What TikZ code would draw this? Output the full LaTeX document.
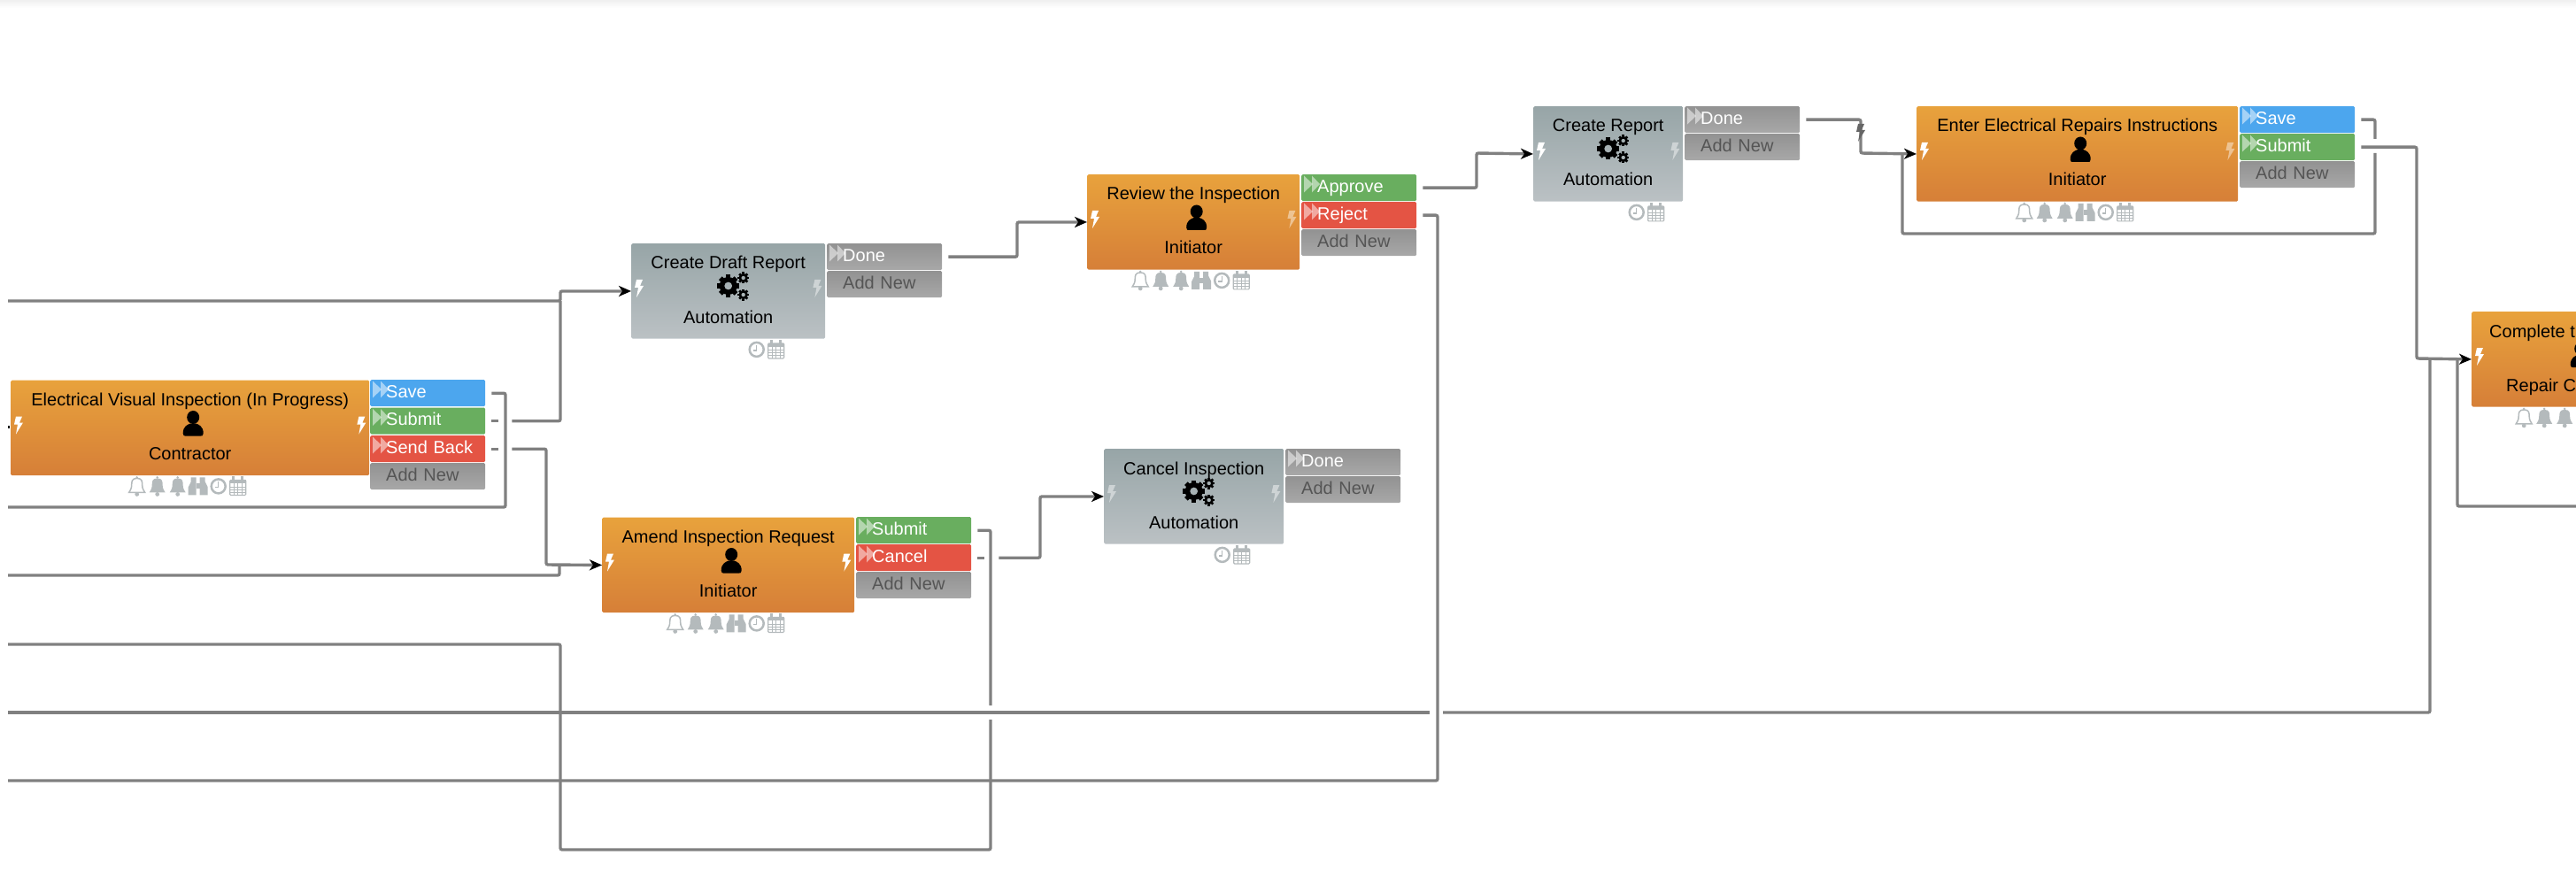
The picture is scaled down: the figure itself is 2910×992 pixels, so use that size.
\documentclass[tikz,border=0pt]{standalone}
\usepackage{fontspec}
\setmainfont{Liberation Sans}
\usetikzlibrary{arrows.meta, calc}
\definecolor{orangetop}   {RGB}{232, 162,  60}
\definecolor{orangebot}   {RGB}{214, 127,  56}
\definecolor{greytop}     {RGB}{151, 165, 167}
\definecolor{greybot}     {RGB}{187, 193, 196}
\definecolor{btngreytop}  {RGB}{146, 146, 146}
\definecolor{btngreybot}  {RGB}{168, 168, 168}
\definecolor{btnblue}     {RGB}{ 76, 166, 238}
\definecolor{btngreen}    {RGB}{105, 174,  95}
\definecolor{btnred}      {RGB}{228,  84,  68}
\definecolor{wiregrey}    {RGB}{128, 128, 128}
\definecolor{icongrey}    {RGB}{180, 186, 188}
\definecolor{addtext}     {RGB}{ 85,  85,  85}
\tikzset{
	wire/.style={draw=wiregrey,line width=3.4pt,rounded corners=2pt},
	flow/.style={wire,-{Stealth[length=14pt,width=12pt,inset=4pt,color=black]}},
	humantask/.style={anchor=north west,minimum height=107.5pt,inner sep=0,rounded corners=1.5pt,top color=orangetop,bottom color=orangebot},
	autotask/.style={anchor=north west,minimum height=107.5pt,inner sep=0,rounded corners=1.5pt,top color=greytop,bottom color=greybot},
	tasktext/.style={font=\fontsize{20}{24}\selectfont,text=black,inner sep=0,text height=14pt,text depth=4pt},
	actionbtn/.style={anchor=north west,minimum width=130pt,minimum height=30pt,text width=130pt,align=left,inner xsep=0,inner ysep=0,
		rounded corners=1.5pt,font=\fontsize{20}{24}\selectfont,text=white,text height=14.5pt,text depth=4.5pt,
		execute at begin node=\hspace*{18pt}},
	saveact/.style={actionbtn,fill=btnblue},
	goact/.style={actionbtn,fill=btngreen},
	stopact/.style={actionbtn,fill=btnred},
	doneact/.style={actionbtn,top color=btngreytop,bottom color=btngreybot},
	addact/.style={doneact,text=addtext},
	boltlit/.style={fill=white},
	boltdim/.style={fill=white,fill opacity=.45},
	pics/bolt/.style={code={\path[pic actions] (-3,-10) -- (4,-10) -- (1,-3) -- (5,-3) -- (-3,10) -- (-1,-1) -- (-5,-1) -- cycle;}},
	pics/arrowpair/.style={code={
		\fill[white,fill opacity=.5] (0,-9.5) -- (10,0) -- (0,9.5) -- cycle;
		\fill[white,fill opacity=.5] (9,-9.5) -- (18,0) -- (9,9.5) -- cycle;
	}},
	pics/person/.style={code={
		\fill (0,-7) ellipse [x radius=7pt,y radius=7.5pt];
		\fill (-11.5,11) .. controls (-11.5,3) and (-6,1) .. (-3,0) -- (3,0) .. controls (6,1) and (11.5,3) .. (11.5,11)
			.. controls (11.5,14) and (10,14) .. (9,14) -- (-9,14) .. controls (-10,14) and (-11.5,14) .. (-11.5,11) -- cycle;
	}},
	pics/cog/.style={code={
		\fill[even odd rule] (0,0) circle [radius=0.8*#1pt] (0,0) circle [radius=0.36*#1pt];
		\foreach \a in {0,45,...,315} \fill[rotate=\a] ({0.7*#1},{-0.21*#1}) rectangle (#1,{0.21*#1});
	}},
	pics/bell/.style={code={
		\path[pic actions] (0,-9) .. controls (-6,-9) and (-6,-5) .. (-6,-1) .. controls (-6,3) and (-8,5) .. (-9,7) -- (9,7)
			.. controls (8,5) and (6,3) .. (6,-1) .. controls (6,-5) and (6,-9) .. (0,-9) -- cycle;
		\fill[icongrey] (0,9) circle (2.4pt);
		\fill[icongrey] (0,-10) circle (1.4pt);
	}},
	pics/binoc/.style={code={
		\fill[icongrey] (-11,10) -- (-11,1) -- (-8,-5) -- (-8,-10) -- (-2,-10) -- (-2,10) -- cycle;
		\fill[icongrey] (11,10) -- (11,1) -- (8,-5) -- (8,-10) -- (2,-10) -- (2,10) -- cycle;
		\fill[icongrey] (-2,-3) rectangle (2,3);
	}},
	pics/clockface/.style={code={
		\draw[icongrey,line width=2.5pt] (0,0) circle (8pt);
		\draw[icongrey,line width=1.4pt] (0,-5) -- (0,1) -- (-4,1);
	}},
	pics/calendar/.style={code={
		\draw[icongrey,line width=1.2pt,rounded corners=1pt] (-9,-7) rectangle (9,10);
		\fill[icongrey] (-9,-7) rectangle (9,-3);
		\fill[icongrey] (-6.5,-11) rectangle (-3.5,-5);
		\fill[icongrey] (3.5,-11) rectangle (6.5,-5);
		\foreach \v in {-4.5,0,4.5} \draw[icongrey,line width=.7pt] (\v,-3) -- (\v,10);
		\foreach \v in {0.5,3.5,6.5} \draw[icongrey,line width=.7pt] (-9,\v) -- (9,\v);
	}},
}
\newcommand{\taskbox}[6]{
	\node[#4,minimum width=#3pt] (#1) at (#2) {};
	\node[tasktext] (#1title) at ($(#1.north)+(0,24)$) {#5};
	\node[tasktext] (#1role) at ($(#1.north)+(0,85)$) {#6};
}
\newcommand{\actbtn}[4]{
	\node[#3] (#1) at (#2) {#4};
	\pic at ($(#1.north west)+(3,11)$) {arrowpair};
}
\newcommand{\boltpair}[3]{
	\pic[#2] at ($(#1.north west)+(9,51)$) {bolt};
	\pic[#3] at ($(#1.north east)+(-9,51)$) {bolt};
}
\newcommand{\gearicon}[1]{
	\pic at ($(#1.north)+(0,48)$) {cog=12.5};
	\pic at ($(#1.north)+(17,39)$) {cog=6.5};
	\pic at ($(#1.north)+(17,58)$) {cog=6.5};
}
\newcommand{\timeicons}[1]{
	\pic at ($(#1.south)+(32,12)$) {clockface};
	\pic at ($(#1.south)+(54,12)$) {calendar};
}
\newcommand{\alerticons}[1]{
	\pic[draw=icongrey,line width=1.5pt] at ($(#1.south)+(-60,12)$) {bell};
	\pic[fill=icongrey] at ($(#1.south)+(-37,12)$) {bell};
	\pic[fill=icongrey] at ($(#1.south)+(-14,12)$) {bell};
	\pic at ($(#1.south)+(9,12)$) {binoc};
}
\begin{document}
\begin{tikzpicture}[x=1pt,y=-1pt]
	\useasboundingbox (0,0) rectangle (2910,992);
	\shade[top color=black!6,bottom color=white] (0,0) rectangle (2910,9);

	\taskbox{visual}{12,429.5}{405}{humantask}{Electrical Visual Inspection (In Progress)}{Contractor}
	\pic at ($(visual.north)+(3.5,49)$) {person};
	\boltpair{visual}{boltlit}{boltlit}
	\alerticons{visual}
	\timeicons{visual}
	\actbtn{visualsave}{418,429}{saveact}{Save}
	\actbtn{visualsubmit}{418,460.5}{goact}{Submit}
	\actbtn{visualback}{418,492}{stopact}{Send Back}
	\node[addact] (visualadd) at (418,523) {Add New};

	\taskbox{draft}{713,275}{219}{autotask}{Create Draft Report}{Automation}
	\gearicon{draft}
	\boltpair{draft}{boltlit}{boltdim}
	\timeicons{draft}
	\actbtn{draftdone}{934,275}{doneact}{Done}
	\node[addact] (draftadd) at (934,306) {Add New};

	\taskbox{amend}{680,584.5}{285}{humantask}{Amend Inspection Request}{Initiator}
	\pic at ($(amend.north)+(3.5,49)$) {person};
	\boltpair{amend}{boltlit}{boltlit}
	\alerticons{amend}
	\timeicons{amend}
	\actbtn{amendsubmit}{967,584}{goact}{Submit}
	\actbtn{amendcancel}{967,615}{stopact}{Cancel}
	\node[addact] (amendadd) at (967,646) {Add New};

	\taskbox{review}{1228,197}{240}{humantask}{Review the Inspection}{Initiator}
	\pic at ($(review.north)+(3.5,49)$) {person};
	\boltpair{review}{boltlit}{boltdim}
	\alerticons{review}
	\timeicons{review}
	\actbtn{reviewapprove}{1470,197}{goact}{Approve}
	\actbtn{reviewreject}{1470,228}{stopact}{Reject}
	\node[addact] (reviewadd) at (1470,259) {Add New};

	\taskbox{cancel}{1247,507}{203}{autotask}{Cancel Inspection}{Automation}
	\gearicon{cancel}
	\boltpair{cancel}{boltdim}{boltdim}
	\timeicons{cancel}
	\actbtn{canceldone}{1452,507}{doneact}{Done}
	\node[addact] (canceladd) at (1452,538) {Add New};

	\taskbox{report}{1732,120}{169}{autotask}{Create Report}{Automation}
	\gearicon{report}
	\boltpair{report}{boltlit}{boltdim}
	\timeicons{report}
	\actbtn{reportdone}{1903,120}{doneact}{Done}
	\node[addact] (reportadd) at (1903,151) {Add New};

	\taskbox{repairs}{2165,120}{363}{humantask}{Enter Electrical Repairs Instructions}{Initiator}
	\pic at ($(repairs.north)+(3.5,49)$) {person};
	\boltpair{repairs}{boltlit}{boltdim}
	\alerticons{repairs}
	\timeicons{repairs}
	\actbtn{repairssave}{2530,120}{saveact}{Save}
	\actbtn{repairssubmit}{2530,151}{goact}{Submit}
	\node[addact] (repairsadd) at (2530,182) {Add New};

	\node[humantask,minimum width=238pt] (complete) at (2792,352) {};
	\node[tasktext,anchor=west] (completetitle) at (2812,376) {Complete t};
	\node[tasktext,anchor=west] (completerole) at (2831,437) {Repair C};
	\pic at ($(complete.north)+(4,49)$) {person};
	\pic[boltlit] at ($(complete.north west)+(9,51)$) {bolt};
	\pic[draw=icongrey,line width=1.5pt] at ($(complete.south)+(-60,12)$) {bell};
	\pic[fill=icongrey] at ($(complete.south)+(-37,12)$) {bell};
	\pic[fill=icongrey] at ($(complete.south)+(-14,12)$) {bell};

	\coordinate (indraft) at (9,340);
	\coordinate (insave) at (9,573);
	\coordinate (inamend) at (9,650);
	\coordinate (inback) at (9,728);
	\coordinate (inlong) at (9,805);
	\coordinate (inreject) at (9,882);
	\coordinate (draftbus) at (633,340);
	\coordinate (savedrop) at (571,573);
	\coordinate (amendbus) at (617,638);
	\coordinate (amendjoin) at (632,638);
	\coordinate (backup) at (633,728);
	\coordinate (backlow) at (633,960);
	\coordinate (backright) at (1119,960);
	\coordinate (backgaptop) at (1119,797);
	\coordinate (backgaplow) at (1119,813);
	\coordinate (cancelbus) at (1175,561);
	\coordinate (donebus) at (1149,251);
	\coordinate (approvebus) at (1668,173);
	\coordinate (rejectbus) at (1624,882);
	\coordinate (longgapleft) at (1615,805);
	\coordinate (longgapright) at (1630,805);
	\coordinate (longcorner) at (2745,805);
	\coordinate (longtop) at (2745,405);
	\coordinate (reportbus) at (2102,173);
	\coordinate (savegaptop) at (2683,157);
	\coordinate (savegaplow) at (2683,173);
	\coordinate (saveright) at (2683,264);
	\coordinate (saveleft) at (2149,264);
	\coordinate (savetop) at (2149,173);
	\coordinate (completebus) at (2730,405);
	\coordinate (returntop) at (2776,405);
	\coordinate (returnlow) at (2776,572);
	\coordinate (returnout) at (2910,572);

	\draw[flow] (indraft) -- (draftbus) |- (draft.west);
	\draw[wire] ($(visualsave.east)+(7,0)$) -| (savedrop) -- (insave);
	\draw[wire] ($(visualsubmit.east)+(7,0)$) -- ++(8,0);
	\draw[wire] ($(visualsubmit.east)+(30,0)$) -| (draftbus);
	\draw[wire] ($(visualback.east)+(7,0)$) -- ++(8,0);
	\draw[flow] ($(visualback.east)+(30,0)$) -| (amendbus) -- (amend.west);
	\draw[wire] (inamend) -| (amendjoin);
	\draw[wire] ($(amendsubmit.east)+(7,0)$) -| (backgaptop);
	\draw[wire] (backgaplow) -- (backright) -- (backlow) -- (backup) -- (inback);
	\draw[wire] ($(amendcancel.east)+(7,0)$) -- ++(8,0);
	\draw[flow] ($(amendcancel.east)+(31,0)$) -| (cancelbus) -- (cancel.west);
	\draw[flow] ($(draftdone.east)+(7,0)$) -| (donebus) -- (review.west);
	\draw[flow] ($(reviewapprove.east)+(7,0)$) -| (approvebus) -- (report.west);
	\draw[wire] ($(reviewreject.east)+(7,0)$) -| (rejectbus) -- (inreject);
	\draw[wire] (inlong) -- (longgapleft);
	\draw[wire] (longgapright) -- (longcorner) -- (longtop);
	\draw[flow] ($(reportdone.east)+(7,0)$) -| (reportbus) -- (repairs.west);
	\pic[fill=black!60] at (2102,150) {bolt};
	\draw[wire] ($(repairssave.east)+(7,0)$) -| (savegaptop);
	\draw[wire] (savegaplow) -- (saveright) -- (saveleft) -- (savetop);
	\draw[flow] ($(repairssubmit.east)+(7,0)$) -| (completebus) -- (complete.west);
	\draw[wire] (returntop) -- (returnlow) -- (returnout);
	\fill[black] (9,481) rectangle (10.5,484);
\end{tikzpicture}
\end{document}
